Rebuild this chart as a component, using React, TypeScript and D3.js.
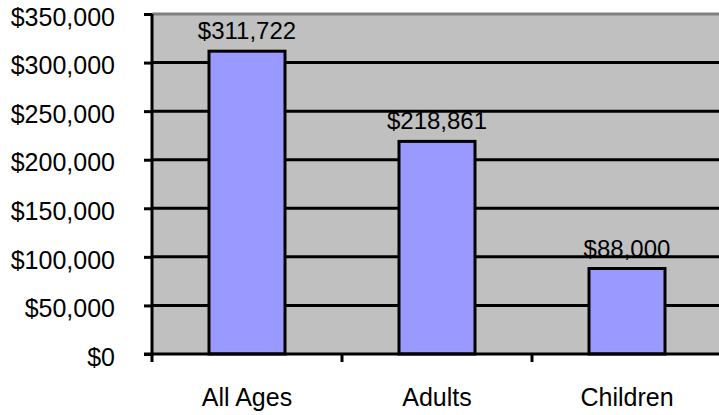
import { useEffect, useRef } from 'react';
import * as d3 from 'd3';

const categories = ['All Ages', 'Adults', 'Children'];
const values = [311722, 218861, 88000];
const yTicks = [0, 50000, 100000, 150000, 200000, 250000, 300000, 350000];

const App = () => {
    const svgRef = useRef<SVGSVGElement | null>(null);

    useEffect(() => {
        if (!svgRef.current) return;
        const svg = d3.select(svgRef.current);
        svg.selectAll('*').remove();

        const width = 719;
        const height = 415;
        const margin = { top: 14, right: -3, bottom: 61, left: 152 };
        const font = 'Liberation Sans, Arial, sans-serif';
        const fmt = (v: number) => '$' + d3.format(',')(v);

        const x = d3.scaleBand()
            .domain(categories)
            .range([margin.left, width - margin.right])
            .paddingInner(0.6)
            .paddingOuter(0.3);

        const y = d3.scaleLinear()
            .domain([0, 350000])
            .range([height - margin.bottom, margin.top]);

        // plot background
        svg.append('rect')
            .attr('x', margin.left)
            .attr('y', margin.top)
            .attr('width', width - margin.right - margin.left)
            .attr('height', y(0) - margin.top)
            .attr('fill', '#c0c0c0');

        svg.append('line')
            .attr('x1', margin.left).attr('x2', width)
            .attr('y1', margin.top).attr('y2', margin.top)
            .attr('stroke', '#808080')
            .attr('stroke-width', 3);

        // gridlines
        svg.append('g')
            .selectAll('line')
            .data(yTicks.filter(t => t > 0 && t < 350000))
            .join('line')
            .attr('x1', margin.left).attr('x2', width)
            .attr('y1', d => y(d)).attr('y2', d => y(d))
            .attr('stroke', '#000')
            .attr('stroke-width', 3);

        // bars
        svg.append('g')
            .selectAll('rect')
            .data(values)
            .join('rect')
            .attr('x', (d, i) => x(categories[i]) as number)
            .attr('y', d => y(d))
            .attr('width', x.bandwidth())
            .attr('height', d => y(0) - y(d))
            .attr('fill', '#9999ff')
            .attr('stroke', '#000')
            .attr('stroke-width', 3);

        // value labels
        svg.append('g')
            .attr('font-family', font)
            .attr('font-size', 24)
            .attr('text-anchor', 'middle')
            .selectAll('text')
            .data(values)
            .join('text')
            .attr('x', (d, i) => (x(categories[i]) as number) + x.bandwidth() / 2)
            .attr('y', d => y(d) - 12)
            .text(d => fmt(d));

        // y axis
        const yAxis = svg.append('g')
            .attr('transform', `translate(${margin.left},0)`)
            .call(d3.axisLeft(y).tickValues(yTicks).tickSize(8).tickPadding(29).tickFormat(d => fmt(+d)));
        yAxis.selectAll('line').attr('stroke', '#000').attr('stroke-width', 3);
        yAxis.select('.domain').attr('stroke', '#000').attr('stroke-width', 3)
            .attr('d', `M0,${y(0) + 8}V${margin.top}`);
        yAxis.selectAll('text')
            .attr('font-family', font)
            .attr('font-size', 25)
            .attr('dy', '0.45em')
            .attr('fill', '#000');

        // x axis
        const step = x.step();
        const xTickPos = [1, 2, 3].map(i => margin.left + i * step);
        const xAxis = svg.append('g');
        xAxis.append('line')
            .attr('x1', margin.left - 8).attr('x2', width)
            .attr('y1', y(0)).attr('y2', y(0))
            .attr('stroke', '#000').attr('stroke-width', 3);
        xAxis.selectAll('line.tick')
            .data(xTickPos)
            .join('line')
            .attr('class', 'tick')
            .attr('x1', d => d).attr('x2', d => d)
            .attr('y1', y(0)).attr('y2', y(0) + 8)
            .attr('stroke', '#000').attr('stroke-width', 3);
        xAxis.selectAll('text')
            .data(categories)
            .join('text')
            .attr('x', d => (x(d) as number) + x.bandwidth() / 2)
            .attr('y', y(0) + 52)
            .attr('text-anchor', 'middle')
            .attr('font-family', font)
            .attr('font-size', 25)
            .text(d => d);
    }, []);

    return (
        <svg ref={svgRef} width={719} height={415}
            style={{ position: 'absolute', left: 0, top: 0, background: '#fff' }} />
    );
};

export default App;
